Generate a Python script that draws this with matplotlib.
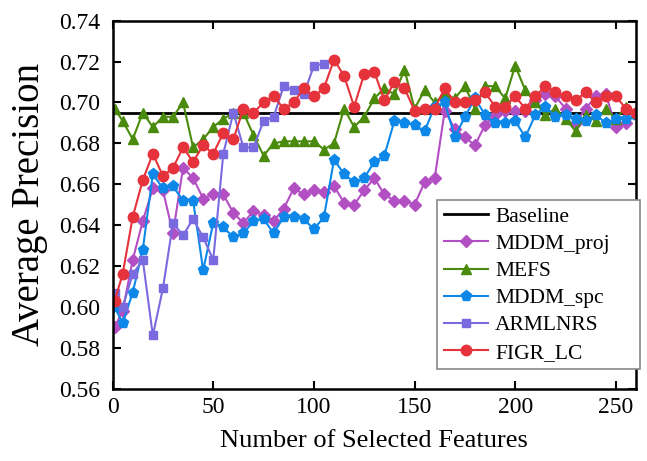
import matplotlib
matplotlib.use('Agg')
import matplotlib.pyplot as plt

plt.rcParams['font.family'] = ['Liberation Serif', 'DejaVu Serif']

# Feature counts on the x axis
x_full = [1, 5, 10, 15, 20, 25, 30, 35, 40, 45, 50, 55, 60, 65, 70, 75, 80, 85, 90, 95,
          100, 105, 110, 115, 120, 125, 130, 135, 140, 145, 150, 155, 160, 165, 170, 175,
          180, 185, 190, 195, 200, 205, 210, 215, 220, 225, 230, 235, 240, 245, 250, 255, 260]
x_armlnrs = [1, 5, 10, 15, 20, 25, 30, 35, 40, 45, 50, 55, 60, 65, 70, 75, 80, 85, 90, 95,
             100, 105]

baseline = 0.695

mddm_proj = [0.590, 0.598, 0.623, 0.642, 0.658, 0.657, 0.636, 0.668, 0.663, 0.653,
             0.655, 0.655, 0.646, 0.641, 0.647, 0.645, 0.642, 0.648, 0.658, 0.655,
             0.657, 0.656, 0.659, 0.651, 0.650, 0.657, 0.663, 0.655, 0.652, 0.652,
             0.650, 0.661, 0.663, 0.696, 0.687, 0.683, 0.679, 0.689, 0.694, 0.696,
             0.696, 0.696, 0.701, 0.704, 0.703, 0.697, 0.690, 0.697, 0.703, 0.704,
             0.688, 0.690, 0.695]

mefs = [0.697, 0.691, 0.682, 0.695, 0.688, 0.693, 0.693, 0.700, 0.678, 0.682,
        0.688, 0.692, 0.695, 0.695, 0.684, 0.674, 0.680, 0.681, 0.681, 0.681,
        0.681, 0.677, 0.680, 0.697, 0.688, 0.693, 0.702, 0.707, 0.704, 0.716,
        0.697, 0.706, 0.700, 0.704, 0.702, 0.708, 0.697, 0.708, 0.708, 0.702,
        0.718, 0.706, 0.700, 0.694, 0.697, 0.692, 0.686, 0.694, 0.691, 0.697,
        0.692, 0.698, 0.695]

mddm_spc = [0.600, 0.592, 0.607, 0.628, 0.665, 0.658, 0.659, 0.652, 0.652, 0.618,
            0.641, 0.639, 0.634, 0.636, 0.642, 0.643, 0.636, 0.644, 0.644, 0.643,
            0.638, 0.644, 0.672, 0.665, 0.661, 0.663, 0.671, 0.674, 0.691, 0.690,
            0.689, 0.686, 0.698, 0.700, 0.683, 0.693, 0.702, 0.694, 0.690, 0.690,
            0.691, 0.683, 0.694, 0.698, 0.693, 0.694, 0.692, 0.691, 0.694, 0.690,
            0.692, 0.692, 0.694]

armlnrs = [0.607, 0.600, 0.616, 0.623, 0.586, 0.609, 0.641, 0.635, 0.643, 0.634,
           0.623, 0.675, 0.695, 0.678, 0.678, 0.691, 0.693, 0.708, 0.706, 0.704,
           0.718, 0.719]

figr_lc = [0.603, 0.616, 0.644, 0.662, 0.675, 0.664, 0.668, 0.678, 0.671, 0.679,
           0.675, 0.685, 0.682, 0.697, 0.695, 0.700, 0.703, 0.697, 0.700, 0.707,
           0.703, 0.707, 0.721, 0.713, 0.698, 0.714, 0.715, 0.701, 0.710, 0.707,
           0.696, 0.697, 0.697, 0.707, 0.700, 0.700, 0.701, 0.705, 0.698, 0.698,
           0.703, 0.697, 0.703, 0.708, 0.705, 0.703, 0.701, 0.705, 0.700, 0.703,
           0.703, 0.697, 0.695]

fig = plt.figure(figsize=(6.47, 4.61), dpi=100)
ax = fig.add_axes([0.174, 0.157, 0.809, 0.798])

ax.axhline(baseline, color='black', lw=2, label='Baseline', zorder=2)
ax.plot(x_full, mddm_proj, marker='D', ms=6, lw=1.5, color='#B24FC2', label='MDDM_proj')
ax.plot(x_full, mefs, marker='^', ms=7.5, lw=1.5, color='#4A8A0C', label='MEFS')
ax.plot(x_full, mddm_spc, marker='p', ms=8, lw=1.5, color='#0D87E8', label='MDDM_spc')
ax.plot(x_armlnrs, armlnrs, marker='s', ms=6, lw=1.5, color='#7A6AE0', label='ARMLNRS')
ax.plot(x_full, figr_lc, marker='o', ms=7.5, lw=1.5, color='#E5323B', label='FIGR_LC')

ax.set_xlim(0, 260)
ax.set_ylim(0.56, 0.74)
ax.set_xticks([0, 50, 100, 150, 200, 250])
ax.set_yticks([0.56, 0.58, 0.60, 0.62, 0.64, 0.66, 0.68, 0.70, 0.72, 0.74])
ax.tick_params(direction='in', top=True, right=True, width=1.5, length=6, labelsize=17)
ax.tick_params(axis='x', pad=6)
ax.tick_params(axis='y', pad=9)
for s in ax.spines.values():
    s.set_linewidth(1.8)

ax.set_xlabel('Number of Selected Features', fontsize=19, labelpad=9)
ax.set_ylabel('Average Precision', fontsize=28, labelpad=8)

# legend box stretched to the right spine, like the original
leg = ax.legend(loc='lower left', bbox_to_anchor=(0.62, 0.053, 0.388, 0.45), mode='expand',
                fontsize=15.5, fancybox=False, framealpha=1, edgecolor='#888888',
                handlelength=2.05, handletextpad=0.35, borderaxespad=0,
                labelspacing=0.33, borderpad=0.3)
leg.get_frame().set_linewidth(1.2)

plt.savefig('out.png', dpi=100)
